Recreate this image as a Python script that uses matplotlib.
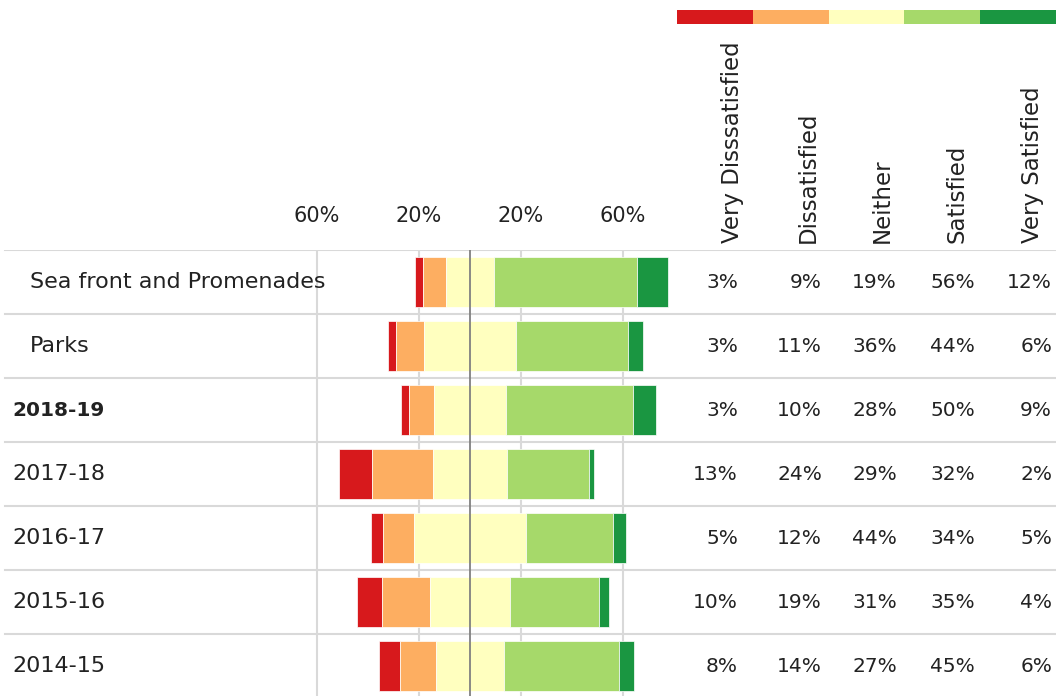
import numpy as np
import matplotlib.pyplot as plt
from matplotlib.transforms import blended_transform_factory

# Survey data (percent)
rows = ["Sea front and Promenades", "Parks", "2018-19", "2017-18", "2016-17", "2015-16", "2014-15"]
very_dissatisfied = [3, 3, 3, 13, 5, 10, 8]
dissatisfied = [9, 11, 10, 24, 12, 19, 14]
neither = [19, 36, 28, 29, 44, 31, 27]
satisfied = [56, 44, 50, 32, 34, 35, 45]
very_satisfied = [12, 6, 9, 2, 5, 4, 6]

categories = ["Very Disssatisfied", "Dissatisfied", "Neither", "Satisfied", "Very Satisfied"]
colors = ["#d7191c", "#fdae61", "#ffffbf", "#a6d96a", "#1a9641"]
tick_vals = [-60, -20, 20, 60]
tick_labels = ["60%", "20%", "20%", "60%"]

W, H = 1056, 696
plt.rcParams['font.family'] = ['DejaVu Sans']
txt_color = "#222222"

fig = plt.figure(figsize=(W / 100, H / 100), dpi=100)

# main axes: rows area, x in percent with zero at pixel 470
zero_px, px_per_pct = 470, 2.55
top_px = 250
row_h = 64
ax = fig.add_axes([0, 0, 1, (H - top_px) / H])
ax.set_xlim(-zero_px / px_per_pct, (W - zero_px) / px_per_pct)
ax.set_ylim(-0.5 + (H - top_px) / row_h, -0.5)

data = np.array([very_dissatisfied, dissatisfied, neither, satisfied, very_satisfied], dtype=float)
y = np.arange(len(rows))
left = -(data[0] + data[1] + data[2] / 2)
for i in range(len(categories)):
    ax.barh(y, data[i], left=left, height=0.78, color=colors[i],
            edgecolor="white", linewidth=0.5, zorder=2)
    left = left + data[i]

ax.axvline(0, color="#808080", lw=1.3, zorder=3)
for b in np.arange(-0.5, len(rows)):
    ax.axhline(b, xmin=5 / W, color="#d9d9d9", lw=1.5, zorder=1)

ax.xaxis.tick_top()
ax.set_xticks(tick_vals)
ax.set_xticklabels(tick_labels, fontsize=15, color=txt_color)
ax.tick_params(axis="x", length=0, pad=17)
ax.set_yticks([])
ax.grid(axis="x", color="#d9d9d9", lw=1.5, zorder=1)
for s in ax.spines.values():
    s.set_visible(False)

# row labels
tr = blended_transform_factory(ax.transAxes, ax.transData)
for i, lab in enumerate(rows):
    x0 = 30 if i < 2 else 12
    bold = lab == "2018-19"
    ax.text(x0 / W, i, lab, transform=tr, ha="left", va="center",
            fontsize=14.5 if bold else 16, color=txt_color,
            fontweight="bold" if bold else "normal")

# table values
col_right = [738, 822, 897, 975, 1052]
for j in range(len(categories)):
    for i in range(len(rows)):
        ax.text(col_right[j] / W, i, f"{int(data[j, i])}%", transform=tr,
                ha="right", va="center", fontsize=14.5, color=txt_color)

# column headers
col_center = [733, 808, 882, 957, 1033]
for j, cat in enumerate(categories):
    fig.text(col_center[j] / W, 1 - 243 / H, cat, rotation=90, ha="center",
             va="bottom", fontsize=16.5, color=txt_color)

# colour key bar
kax = fig.add_axes([677 / W, 1 - 24 / H, (W - 677) / W, 14 / H])
kax.barh(0, [1] * len(colors), left=np.arange(len(colors)), height=1, color=colors)
kax.set_xlim(0, len(colors))
kax.set_ylim(-0.5, 0.5)
kax.axis("off")

fig.savefig("out.png", dpi=100)
